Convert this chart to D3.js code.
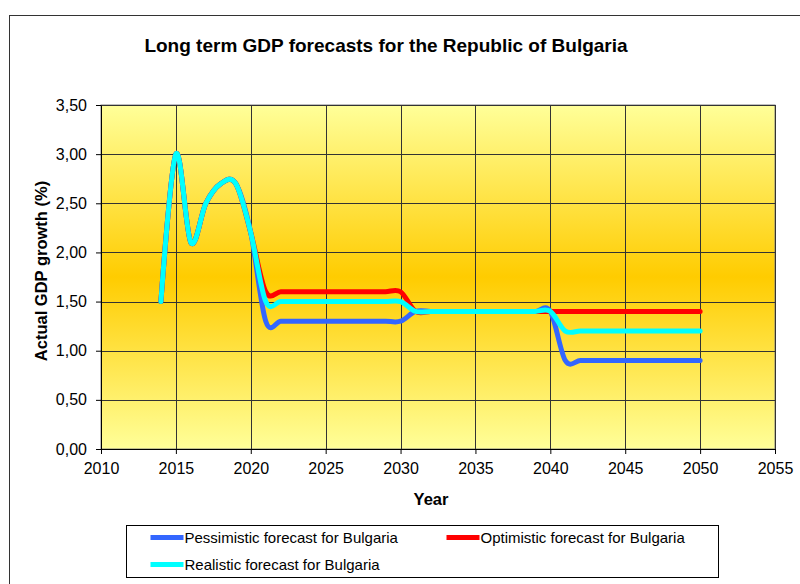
<!DOCTYPE html>
<html>
<head>
<meta charset="utf-8">
<script src="https://cdn.jsdelivr.net/npm/d3@7"></script>
<style>
  body { margin: 0; background: #fff; }
  svg { display: block; font-family: Arial, "Liberation Sans", sans-serif; }
</style>
</head>
<body>
<svg width="800" height="584"></svg>
<script>
const width = 800, height = 584;

// data
const years = d3.range(2014, 2051);
const pessimistic = [1.5, 3.0, 2.1, 2.5, 2.7, 2.7, 2.2,
  1.3, 1.3, 1.3, 1.3, 1.3, 1.3, 1.3, 1.3, 1.3, 1.3,
  1.4, 1.4, 1.4, 1.4, 1.4, 1.4, 1.4, 1.4, 1.4, 1.4,
  0.9, 0.9, 0.9, 0.9, 0.9, 0.9, 0.9, 0.9, 0.9, 0.9];
const optimistic = [1.5, 3.0, 2.1, 2.5, 2.7, 2.7, 2.2,
  1.6, 1.6, 1.6, 1.6, 1.6, 1.6, 1.6, 1.6, 1.6, 1.6,
  1.4, 1.4, 1.4, 1.4, 1.4, 1.4, 1.4, 1.4, 1.4, 1.4,
  1.4, 1.4, 1.4, 1.4, 1.4, 1.4, 1.4, 1.4, 1.4, 1.4];
const realistic = [1.5, 3.0, 2.1, 2.5, 2.7, 2.7, 2.2,
  1.5, 1.5, 1.5, 1.5, 1.5, 1.5, 1.5, 1.5, 1.5, 1.5,
  1.4, 1.4, 1.4, 1.4, 1.4, 1.4, 1.4, 1.4, 1.4, 1.4,
  1.2, 1.2, 1.2, 1.2, 1.2, 1.2, 1.2, 1.2, 1.2, 1.2];
const seriesNames = ["Pessimistic forecast for Bulgaria", "Optimistic forecast for Bulgaria", "Realistic forecast for Bulgaria"];
const seriesColors = ["#3366FF", "#FF0000", "#00FFFF"];
const xTicks = d3.range(2010, 2056, 5);
const yTicks = d3.range(0, 3.51, 0.5);

const series = [pessimistic, optimistic, realistic].map((vals, i) => ({
  name: seriesNames[i],
  color: seriesColors[i],
  values: years.map((y, j) => ({year: y, value: vals[j]}))
}));

const margin = {top: 105, right: 25, bottom: 135, left: 101},
    plotWidth = width - margin.left - margin.right,
    plotHeight = height - margin.top - margin.bottom;

const svg = d3.select("svg");

// outer chart frame
svg.append("rect")
  .attr("x", 9.5).attr("y", 15.5)
  .attr("width", 820).attr("height", 620)
  .attr("fill", "#fff").attr("stroke", "#333").attr("stroke-width", 1);

// title
svg.append("text")
  .attr("x", 386).attr("y", 52)
  .attr("text-anchor", "middle")
  .attr("font-size", "19px").attr("font-weight", "bold")
  .text("Long term GDP forecasts for the Republic of Bulgaria");

const g = svg.append("g").attr("transform", `translate(${margin.left}, ${margin.top})`);

// background gradient
const grad = svg.append("defs").append("linearGradient")
  .attr("id", "bg").attr("x1", 0).attr("y1", 0).attr("x2", 0).attr("y2", 1);
grad.append("stop").attr("offset", "0%").attr("stop-color", "#FFFF99");
grad.append("stop").attr("offset", "50%").attr("stop-color", "#FFCC00");
grad.append("stop").attr("offset", "100%").attr("stop-color", "#FFFF99");

g.append("rect")
  .attr("width", plotWidth).attr("height", plotHeight)
  .attr("fill", "url(#bg)").attr("stroke", "#808080");

const x = d3.scaleLinear().domain([2010, 2055]).range([0, plotWidth]);
const y = d3.scaleLinear().domain([0, 3.5]).range([plotHeight, 0]);

// gridlines
g.append("g").selectAll("line")
  .data(yTicks.slice(1)).enter().append("line")
  .attr("x1", 0).attr("x2", plotWidth)
  .attr("y1", d => Math.round(y(d)) + 0.5).attr("y2", d => Math.round(y(d)) + 0.5)
  .attr("stroke", "#333").attr("stroke-width", 1);
g.append("g").selectAll("line")
  .data(xTicks.slice(1)).enter().append("line")
  .attr("y1", 0).attr("y2", plotHeight)
  .attr("x1", d => Math.round(x(d)) + 0.5).attr("x2", d => Math.round(x(d)) + 0.5)
  .attr("stroke", "#333").attr("stroke-width", 1);

// axes
const fmt = d => d3.format(".2f")(d).replace(".", ",");
const yAxis = g.append("g")
  .call(d3.axisLeft(y).tickValues(yTicks).tickFormat(fmt).tickSizeInner(5).tickSizeOuter(0).tickPadding(9));
const xAxis = g.append("g")
  .attr("transform", `translate(0, ${plotHeight})`)
  .call(d3.axisBottom(x).tickValues(xTicks).tickFormat(d3.format("d")).tickSizeInner(5).tickSizeOuter(0).tickPadding(9));
[yAxis, xAxis].forEach(a => {
  a.selectAll("text").attr("font-size", "16px").attr("fill", "#000")
    .attr("font-family", "Arial, 'Liberation Sans', sans-serif");
  a.selectAll("line, path").attr("stroke", "#000");
});

// axis labels
svg.append("text")
  .attr("transform", "translate(47, 271) rotate(-90)")
  .attr("text-anchor", "middle")
  .attr("font-size", "16.5px").attr("font-weight", "bold")
  .text("Actual GDP growth (%)");
svg.append("text")
  .attr("x", 431).attr("y", 505)
  .attr("text-anchor", "middle")
  .attr("font-size", "16.5px").attr("font-weight", "bold")
  .text("Year");

// lines
const line = d3.line()
  .x(d => x(d.year))
  .y(d => y(d.value))
  .curve(d3.curveCardinal.tension(0));

g.selectAll(".series")
  .data(series).enter().append("path")
  .attr("class", "series")
  .attr("d", d => line(d.values))
  .attr("fill", "none")
  .attr("stroke", d => d.color)
  .attr("stroke-width", 5)
  .attr("stroke-linecap", "round")
  .attr("stroke-linejoin", "round");

// legend
const legend = svg.append("g").attr("transform", "translate(126.5, 525.5)");
legend.append("rect")
  .attr("width", 592).attr("height", 52)
  .attr("fill", "#fff").attr("stroke", "#000");

const legendPos = [[24, 12], [320, 12], [24, 39]];
const items = legend.selectAll(".item")
  .data(series).enter().append("g")
  .attr("transform", (d, i) => `translate(${legendPos[i][0]}, ${legendPos[i][1]})`);
items.append("line")
  .attr("x1", 0).attr("x2", 33).attr("y1", 0).attr("y2", 0)
  .attr("stroke", d => d.color).attr("stroke-width", 5);
items.append("text")
  .attr("x", 34).attr("y", 5.5)
  .attr("font-size", "15px")
  .text(d => d.name);
</script>
</body>
</html>
